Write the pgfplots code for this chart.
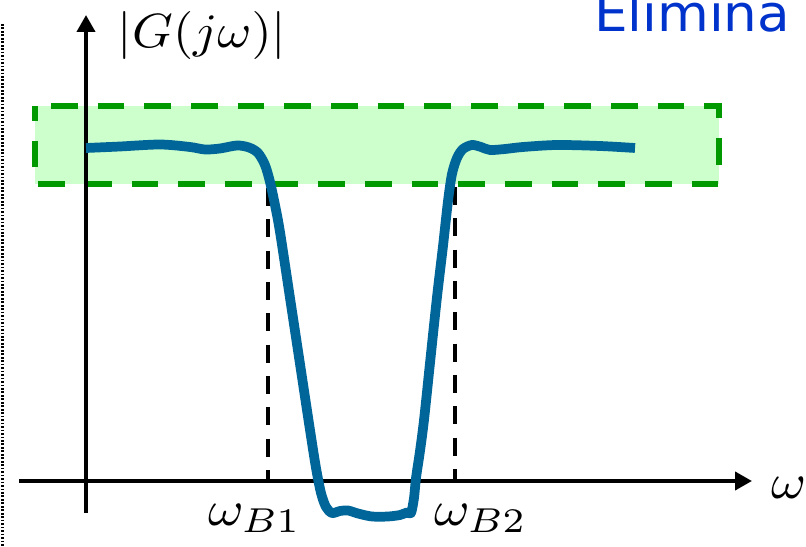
\documentclass[border=0pt]{standalone}
\usepackage{fontspec}
\usepackage{pgfplots}
\pgfplotsset{compat=1.18}
\usetikzlibrary{arrows.meta}
\newfontfamily\elimfont{DejaVu Sans}
\definecolor{curveblue}{HTML}{006699}
\definecolor{boxgreen}{HTML}{009900}
\definecolor{boxfill}{HTML}{CCFFCC}
\definecolor{titleblue}{HTML}{0033CC}
\begin{document}
\begin{tikzpicture}
\begin{axis}[name=A, scale only axis, width=604.5pt, height=409.5pt,
  xmin=0, xmax=806, ymin=0, ymax=546, axis lines=none, clip=false]
% left dotted separator
\addplot[black, line width=2.6pt, dash pattern=on 1.3pt off 1.3pt] coordinates {(2.5,522) (2.5,0)};
% green band
\addplot[fill=boxfill, draw=boxgreen, line width=4.3pt, dash pattern=on 20pt off 15pt, dash phase=-12pt]
  coordinates {(35,440) (719,440) (719,362) (35,362)} -- cycle;
% axes
\addplot[black, line width=3pt, -{Triangle[length=12.75pt,width=13.5pt]}] coordinates {(19,65) (752,65)};
\addplot[black, line width=3pt, -{Triangle[length=12.75pt,width=13.5pt]}] coordinates {(86,33) (86,531)};
% bandwidth markers
\addplot[black, line width=3.5pt, dash pattern=on 13.5pt off 10pt] coordinates {(268,358) (268,65)};
\addplot[black, line width=3.5pt, dash pattern=on 13.5pt off 10pt] coordinates {(455,359) (455,65)};
% magnitude curve
\addplot[curveblue, line width=7.3pt, smooth, tension=0.5, line join=round, line cap=butt] coordinates {
(86,398) (120,399.5) (160,401.5) (190,399) (205,396.5) (220,397.5) (237,400.5) (249,398.5) (258,393)
(265,381) (270,364) (275,341) (280,314) (290,248) (300,182) (310,116) (316,78) (321,53) (326,39) (332,33)
(340,35) (348,35.5) (358,32.5) (372,29.5) (388,29.5) (400,31) (407,33.5) (411,33)
(414,48) (416,68) (420,95) (424,126) (430,183) (437,249) (443,300) (448,345) (452,372) (457,388) (463,397) (472,401)
(481,399) (490,396) (505,397) (523,399) (557,401) (600,400) (635,398)};
% labels
\node[anchor=base, inner sep=0pt, scale=3.6, xscale=1.08] at (axis cs:202,498) {$|G(j\omega)|$};
\node[anchor=base west, inner sep=0pt, scale=3.7, xscale=1.08] at (axis cs:770,48) {$\omega$};
\node[anchor=base west, inner sep=0pt, scale=3.7, xscale=1.1] at (axis cs:207,21) {$\omega_{B1}$};
\node[anchor=base west, inner sep=0pt, scale=3.7, xscale=1.1] at (axis cs:433,21) {$\omega_{B2}$};
\node[anchor=base west, inner sep=0pt, scale=3.8, xscale=1.05, text=titleblue] at (axis cs:593,514) {\elimfont Elimina};
\end{axis}
\pgfresetboundingbox
\path[use as bounding box] (A.south west) rectangle (A.north east);
\end{tikzpicture}
\end{document}
